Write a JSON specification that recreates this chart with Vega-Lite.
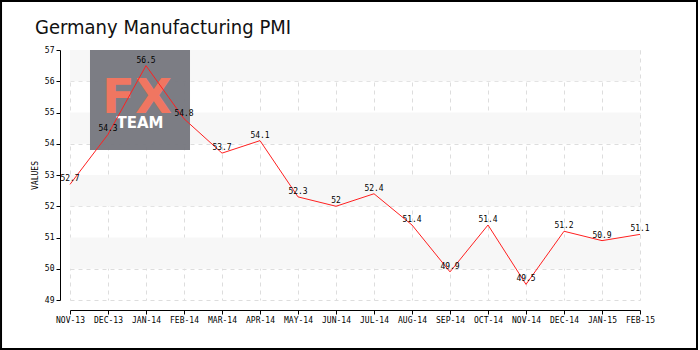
{
  "$schema": "https://vega.github.io/schema/vega-lite/v6.json",
  "width": 570,
  "height": 250,
  "autosize": {"type": "none"},
  "padding": {"left": 70, "top": 50, "right": 60, "bottom": 50},
  "background": "white",
  "title": {"text": "Germany Manufacturing PMI", "anchor": "start", "frame": "group", "dx": -35, "offset": -54, "baseline": "alphabetic", "fontSize": 20, "font": "DejaVu Sans Condensed", "fontWeight": "normal", "color": "#111111"},
  "config": {"view": {"stroke": null}},
  "datasets": {
    "pmi": [
      {"month": "NOV-13", "value": 52.7},
      {"month": "DEC-13", "value": 54.3},
      {"month": "JAN-14", "value": 56.5},
      {"month": "FEB-14", "value": 54.8},
      {"month": "MAR-14", "value": 53.7},
      {"month": "APR-14", "value": 54.1},
      {"month": "MAY-14", "value": 52.3},
      {"month": "JUN-14", "value": 52},
      {"month": "JUL-14", "value": 52.4},
      {"month": "AUG-14", "value": 51.4},
      {"month": "SEP-14", "value": 49.9},
      {"month": "OCT-14", "value": 51.4},
      {"month": "NOV-14", "value": 49.5},
      {"month": "DEC-14", "value": 51.2},
      {"month": "JAN-15", "value": 50.9},
      {"month": "FEB-15", "value": 51.1}
    ],
    "bands": [
      {"lo": 50, "hi": 51},
      {"lo": 52, "hi": 53},
      {"lo": 54, "hi": 55},
      {"lo": 56, "hi": 57}
    ],
    "logo": [{"fx": "FX", "team": "TEAM"}]
  },
  "layer": [
    {
      "layer": [
        {
          "data": {"name": "bands"},
          "mark": {"type": "rect", "color": "#f7f7f7"},
          "encoding": {
            "y": {"field": "lo", "type": "quantitative", "scale": {"domain": [49, 57], "nice": false, "zero": false}, "axis": null},
            "y2": {"field": "hi"}
          }
        },
        {
          "data": {"name": "logo"},
          "mark": {"type": "rect", "color": "#77787f", "opacity": 0.96},
          "encoding": {
            "x": {"datum": 0.526, "type": "quantitative", "scale": {"domain": [0, 15], "nice": false, "zero": false}, "axis": null},
            "x2": {"datum": 3.158},
            "y": {"datum": 57, "type": "quantitative", "scale": {"domain": [49, 57], "nice": false, "zero": false}, "axis": null},
            "y2": {"datum": 53.8}
          }
        },
        {
          "data": {"name": "logo"},
          "mark": {"type": "text", "color": "#f07661", "fontSize": 48, "font": "DejaVu Sans", "fontWeight": "bold", "baseline": "alphabetic", "align": "center"},
          "encoding": {
            "x": {"datum": 1.763, "type": "quantitative"},
            "y": {"datum": 54.98, "type": "quantitative"},
            "text": {"field": "fx"}
          }
        },
        {
          "data": {"name": "logo"},
          "mark": {"type": "text", "color": "white", "fontSize": 15, "font": "DejaVu Sans", "fontWeight": "bold", "baseline": "alphabetic", "align": "center"},
          "encoding": {
            "x": {"datum": 1.842, "type": "quantitative"},
            "y": {"datum": 54.5, "type": "quantitative"},
            "text": {"field": "team"}
          }
        },
        {
          "data": {"name": "logo"},
          "mark": {"type": "rect", "fill": null, "stroke": "black", "strokeWidth": 2},
          "encoding": {
            "x": {"datum": -1.815, "type": "quantitative"},
            "x2": {"datum": 16.5},
            "y": {"datum": 58.57, "type": "quantitative"},
            "y2": {"datum": 47.43}
          }
        }
      ]
    },
    {
      "data": {"name": "pmi"},
      "encoding": {
        "x": {
          "field": "month", "type": "ordinal", "sort": null,
          "scale": {"type": "point", "padding": 0},
          "axis": {"orient": "bottom", "title": null, "labelAngle": 0, "offset": 10, "domainColor": "black", "tickColor": "black", "tickSize": 4, "labelFont": "DejaVu Sans Mono", "labelFontSize": 8, "labelColor": "black", "labelPadding": 2, "grid": true, "gridDash": [4, 4], "gridColor": "#dddddd"}
        },
        "y": {
          "field": "value", "type": "quantitative",
          "scale": {"domain": [49, 57], "nice": false, "zero": false},
          "axis": {
            "orient": "left",
            "title": "VALUES", "titleFont": "DejaVu Sans Mono", "titleFontSize": 8, "titleFontWeight": "normal", "titleColor": "black", "titlePadding": 5,
            "offset": 10, "values": [49, 49.5, 50, 50.5, 51, 51.5, 52, 52.5, 53, 53.5, 54, 54.5, 55, 55.5, 56, 56.5, 57],
            "format": "d",
            "labelExpr": "datum.value % 1 ? '' : datum.label",
            "labelFont": "DejaVu Sans Mono", "labelFontSize": 8, "labelColor": "black", "labelPadding": 2,
            "domainColor": "black",
            "tickColor": {"condition": {"test": "datum.value % 1", "value": "red"}, "value": "black"},
            "tickSize": {"condition": {"test": "datum.value % 1", "value": 2}, "value": 4},
            "grid": true, "gridDash": [4, 4], "gridColor": "#dddddd",
            "gridOpacity": {"condition": {"test": "datum.value % 1", "value": 0}, "value": 1}
          }
        }
      },
      "layer": [
        {"mark": {"type": "line", "color": "#ff2020", "strokeWidth": 1}},
        {"mark": {"type": "text", "baseline": "bottom", "dy": -1, "font": "DejaVu Sans Mono", "fontSize": 8, "color": "black"}, "encoding": {"text": {"field": "value", "type": "quantitative"}}}
      ]
    }
  ],
  "resolve": {"scale": {"x": "independent", "y": "independent"}}
}
